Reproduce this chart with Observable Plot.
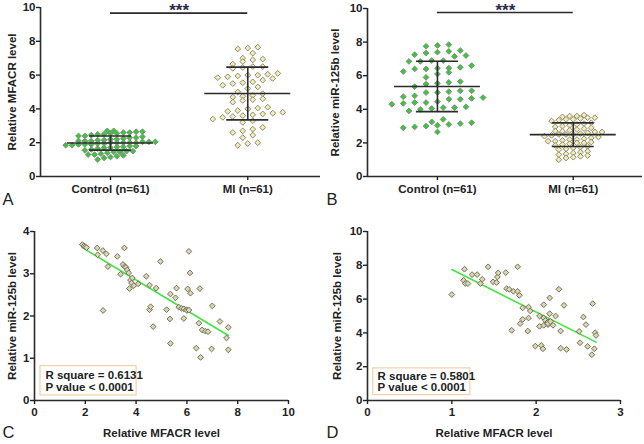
<!DOCTYPE html>
<html><head><meta charset="utf-8">
<script src="https://cdn.jsdelivr.net/npm/d3@7"></script>
<script src="https://cdn.jsdelivr.net/npm/@observablehq/plot@0.6"></script>
<style>
html,body{margin:0;padding:0;background:#fff;}
#root{position:relative;width:644px;height:444px;overflow:hidden;}
#root > div{position:absolute;}
</style></head>
<body><div id="root"></div>
<script>
// ---------- data ----------
const groups = ["Control (n=61)", "MI (n=61)"];
const yTicks10 = [0, 2, 4, 6, 8, 10];

// Panel A: MFACR level
const aControl = [2.7,2.7,2.65,2.65,2.6,2.6,2.55,2.55,2.5,2.5,2.45,2.4,2.4,2.35,2.3,2.3,2.25,2.2,2.2,2.15,2.15,2.1,2.1,2.1,2.05,2.05,2.05,2.0,2.0,2.0,2.0,2.0,1.95,1.95,1.9,1.9,1.9,1.85,1.85,1.8,1.8,1.75,1.75,1.7,1.7,1.65,1.6,1.55,1.5,1.5,1.45,1.45,1.4,1.35,1.3,1.3,1.25,1.2,1.15,1.1,1.0];
const aMI = [7.65,7.6,7.55,7.3,7.0,6.95,6.9,6.8,6.65,6.5,6.5,6.45,6.4,6.1,6.05,6.0,6.0,5.95,5.9,5.85,5.8,5.7,5.6,5.55,5.5,5.4,5.3,5.2,5.0,4.9,4.8,4.75,4.7,4.6,4.55,4.5,4.4,4.1,4.05,4.0,3.9,3.85,3.8,3.75,3.7,3.65,3.6,3.55,3.5,3.4,3.3,3.2,2.9,2.8,2.7,2.6,2.45,2.3,2.0,1.95,1.85];
const aMean = [1.98, 4.91];
const aSD = [0.42, 1.56];

// Panel B: miR-125b level
const bControl = [7.85,7.8,7.75,7.5,7.45,7.4,7.35,7.25,7.2,7.15,6.9,6.9,6.85,6.85,6.6,6.5,6.45,6.45,6.4,6.4,6.25,6.2,6.1,5.9,5.65,5.6,5.55,5.5,5.35,5.1,5.1,5.05,5.0,5.0,4.8,4.75,4.7,4.65,4.6,4.6,4.45,4.4,4.4,4.35,4.3,4.15,4.1,4.1,4.05,4.0,3.9,3.4,3.25,3.2,3.15,3.1,3.05,3.0,2.95,2.9,2.65];
const bMI = [3.65,3.6,3.6,3.55,3.5,3.5,3.45,3.4,3.4,3.35,3.3,3.2,3.15,3.1,3.05,3.0,2.95,2.9,2.85,2.8,2.75,2.7,2.7,2.65,2.65,2.6,2.55,2.5,2.5,2.5,2.45,2.4,2.35,2.3,2.25,2.2,2.2,2.15,2.1,2.1,2.05,2.0,2.0,1.95,1.9,1.85,1.8,1.75,1.7,1.65,1.6,1.5,1.45,1.4,1.35,1.3,1.25,1.2,1.15,1.1,1.0];
const bMean = [5.36, 2.49];
const bSD = [1.5, 0.7];

// Panel C: MFACR (x) vs miR-125b (y)
const cX = [1.88,1.95,2.00,2.05,2.47,2.49,2.69,2.83,2.70,2.89,3.26,3.39,3.48,3.54,3.56,3.60,3.65,3.71,3.74,3.78,3.82,3.85,3.91,4.08,4.40,4.53,4.53,4.57,4.67,4.79,4.96,5.20,5.33,5.35,5.35,5.55,5.59,5.68,5.79,5.88,5.88,5.98,6.00,6.03,6.08,6.08,6.12,6.14,6.37,6.47,6.51,6.54,6.60,6.73,6.83,6.97,7.00,7.30,7.56,7.63,7.63];
const cY = [3.69,3.66,3.64,3.62,3.61,3.45,3.55,3.47,2.13,3.17,3.41,2.99,3.22,3.61,3.17,3.15,3.09,3.02,2.65,2.85,2.78,2.90,2.72,2.76,2.94,2.73,2.15,2.22,1.75,2.66,3.29,2.15,1.93,2.52,1.35,2.43,2.66,2.21,2.18,2.17,1.94,2.15,2.13,2.64,2.14,3.53,3.02,2.54,1.24,1.83,2.65,1.02,1.67,1.64,1.63,1.22,2.24,1.87,1.48,1.73,1.20];
const cStats = "R square = 0.6131\nP value < 0.0001";

// Panel D
const dX = [1.00,1.14,1.15,1.16,1.19,1.24,1.30,1.34,1.36,1.43,1.49,1.53,1.54,1.55,1.64,1.65,1.68,1.71,1.73,1.78,1.78,1.80,1.81,1.84,1.84,1.90,1.91,1.91,1.93,1.99,2.04,2.04,2.06,2.08,2.09,2.09,2.09,2.11,2.14,2.14,2.14,2.16,2.16,2.17,2.20,2.23,2.27,2.29,2.29,2.33,2.36,2.51,2.52,2.56,2.59,2.61,2.66,2.67,2.69,2.70,2.71];
const dY = [6.27,7.11,7.77,6.92,6.92,7.45,7.45,6.92,7.17,7.91,7.02,6.98,7.31,7.55,7.57,6.62,6.58,4.15,6.46,7.91,6.46,6.22,4.55,5.48,4.80,4.11,5.53,4.88,5.30,3.22,5.00,4.39,3.26,3.06,5.67,4.88,4.45,4.74,4.65,4.49,4.55,6.07,5.14,4.68,4.45,5.00,6.58,4.11,3.10,5.63,3.02,4.09,3.42,4.94,4.49,3.20,2.71,5.73,3.06,4.01,3.85];
const dStats = "R square = 0.5801\nP value < 0.0001";

// ---------- styling ----------
const FONT = "'Liberation Sans', Arial, Helvetica, sans-serif";
const AX = "#2b2b2b";
const GREEN = "#36c936", GREEN_S = "#8a8a8a";
const YEL = "#f2edb0", YEL_S = "#8c8a78";
const SC = "#ddd6a6", SC_S = "#6f6f68";
const LINE = "#3ee63e";
const BOX = "#f6cfa6";
const STAR = "#2c2d4a";
const R = 2.6;

const baseStyle = {fontFamily: FONT, fontSize: "11.5px", fontWeight: "bold", color: "#222", background: "transparent", overflow: "visible"};

// beeswarm-like row layout (GraphPad style): bin values into rows, spread within row
function swarm(values, center, binH, stepUnits) {
  const rows = d3.group(values.map(v => ({v})), d => Math.round(d.v / binH));
  const out = [];
  for (const [, pts] of rows) {
    pts.sort((a, b) => a.v - b.v);
    const n = pts.length;
    pts.forEach((p, j) => out.push({x: center + (j - (n - 1) / 2) * stepUnits, y: p.v}));
  }
  return out;
}

function place(svg, left, top) {
  const d = document.createElement("div");
  d.style.left = left + "px"; d.style.top = top + "px";
  d.append(svg);
  document.getElementById("root").append(d);
}

function dotPanel(o) {
  const pxPerUnit = (322 - o.ml - 2) / (o.xd[1] - o.xd[0]);
  const ptsC = swarm(o.ctrl, 0, o.binC, o.stepC / pxPerUnit);
  const ptsM = swarm(o.mi, 1, o.binM, o.stepM / pxPerUnit);
  const wMean = 43 / pxPerUnit, wSD = 21 / pxPerUnit;
  const stats = [0, 1].map(i => ({c: i, m: o.mean[i], s: o.sd[i]}));
  return Plot.plot({
    width: 322, height: 222,
    marginLeft: o.ml, marginRight: 2, marginTop: o.mt, marginBottom: 46,
    style: baseStyle,
    x: {domain: o.xd},
    y: {domain: [0, 10]},
    marks: [
      Plot.dot(ptsC, {x: "x", y: "y", symbol: "diamond2", r: R, fill: GREEN, stroke: GREEN_S, strokeWidth: 1}),
      Plot.dot(ptsM, {x: "x", y: "y", symbol: "diamond2", r: R, fill: YEL, stroke: YEL_S, strokeWidth: 1}),
      Plot.ruleY(stats, {y: "m", x1: d => d.c - wMean, x2: d => d.c + wMean, stroke: AX, strokeWidth: 1.6}),
      Plot.ruleY(stats, {y: d => d.m + d.s, x1: d => d.c - wSD, x2: d => d.c + wSD, stroke: AX, strokeWidth: 1.6}),
      Plot.ruleY(stats, {y: d => d.m - d.s, x1: d => d.c - wSD, x2: d => d.c + wSD, stroke: AX, strokeWidth: 1.6}),
      Plot.ruleX(stats, {x: "c", y1: d => d.m - d.s, y2: d => d.m + d.s, stroke: AX, strokeWidth: 1.6}),
      Plot.ruleY([o.sigY], {x1: 0, x2: 1, stroke: AX, strokeWidth: 1.6}),
      Plot.text(["***"], {x: 0.5, frameAnchor: "top", dy: -o.mt + 3.8, lineAnchor: "top", fontSize: 17, fill: STAR}),
      Plot.ruleX([o.xd[0]], {stroke: AX, strokeWidth: 1.6}),
      Plot.ruleY([0], {stroke: AX, strokeWidth: 1.6}),
      Plot.axisY({ticks: yTicks10, tickFormat: d3.format("d"), tickSize: 4, tickPadding: 1, label: null, strokeWidth: 1.4}),
      Plot.axisX({ticks: [0, 1], tickFormat: i => groups[i], tickSize: 4, tickPadding: 4, label: null, strokeWidth: 1.4}),
      Plot.text([o.ylabel], {frameAnchor: "left", dx: o.ylDx, rotate: -90, textAnchor: "middle", lineAnchor: "middle"}),
      Plot.text([o.letter], {frameAnchor: "bottom-left", dx: o.letDx, dy: 23, textAnchor: "start", lineAnchor: "middle", fontSize: 16.5, fontWeight: "normal"})
    ]
  });
}

function scatterPanel(o) {
  const data = o.xs.map((x, i) => ({x, y: o.ys[i]}));
  return Plot.plot({
    width: 322, height: 222,
    marginLeft: o.ml, marginRight: o.mr, marginTop: 9, marginBottom: 44,
    style: baseStyle,
    x: {domain: o.xd},
    y: {domain: o.yd},
    marks: [
      Plot.rect([0], {x1: o.box[0], x2: o.box[1], y1: o.box[2], y2: o.box[3], fill: "white", stroke: BOX, strokeWidth: 1.2}),
      Plot.text([o.stats], {x: o.txt[0], y: o.txt[1], textAnchor: "start", lineHeight: 0.97}),
      Plot.linearRegressionY(data, {x: "x", y: "y", stroke: LINE, strokeWidth: 1.6, ci: 0}),
      Plot.dot(data, {x: "x", y: "y", symbol: "diamond2", r: R, fill: SC, stroke: SC_S, strokeWidth: 1}),
      Plot.ruleX([o.xd[0]], {stroke: AX, strokeWidth: 1.6}),
      Plot.ruleY([o.yd[0]], {stroke: AX, strokeWidth: 1.6}),
      Plot.axisY({ticks: o.yt, tickFormat: d3.format("d"), tickSize: 4, tickPadding: 1, label: null, strokeWidth: 1.4}),
      Plot.axisX({ticks: o.xt, tickFormat: d3.format("d"), tickSize: 4, tickPadding: 3, label: null, strokeWidth: 1.4}),
      Plot.text(["Relative miR-125b level"], {frameAnchor: "left", dx: o.ylDx, rotate: -90, textAnchor: "middle", lineAnchor: "middle"}),
      Plot.text(["Relative MFACR level"], {frameAnchor: "bottom", dy: 33, textAnchor: "middle", lineAnchor: "middle"}),
      Plot.text([o.letter], {frameAnchor: "bottom-left", dx: o.letDx, dy: 32, textAnchor: "start", lineAnchor: "middle", fontSize: 16.5, fontWeight: "normal"})
    ]
  });
}

place(dotPanel({ctrl: aControl, mi: aMI, mean: aMean, sd: aSD, ml: 40, mt: 7, xd: [-0.51, 1.53],
  binC: 0.28, stepC: 6.4, binM: 0.4, stepM: 10, sigY: 9.67,
  ylabel: "Relative MFACR level", ylDx: -28, letter: "A", letDx: -38}), 0, 0);

place(dotPanel({ctrl: bControl, mi: bMI, mean: bMean, sd: bSD, ml: 45, mt: 8, xd: [-0.515, 1.51],
  binC: 0.5, stepC: 11.4, binM: 0.28, stepM: 7.2, sigY: 9.76,
  ylabel: "Relative miR-125b level", ylDx: -32, letter: "B", letDx: -41}), 322, 0);

place(scatterPanel({xs: cX, ys: cY, ml: 34, mr: 34, xd: [0, 10], yd: [0, 4], xt: [0, 2, 4, 6, 8, 10], yt: [0, 1, 2, 3, 4],
  box: [0.236, 4.02, 0.12, 0.815], txt: [0.43, 0.45], stats: cStats, ylDx: -22, letter: "C", letDx: -32}), 0, 222);

place(scatterPanel({xs: dX, ys: dY, ml: 45, mr: 24, xd: [0, 3], yd: [0, 10], xt: [0, 1, 2, 3], yt: yTicks10,
  box: [0.068, 1.22, 0.32, 1.9], txt: [0.12, 1.12], stats: dStats, ylDx: -30, letter: "D", letDx: -41}), 322, 222);
</script>
</body></html>
